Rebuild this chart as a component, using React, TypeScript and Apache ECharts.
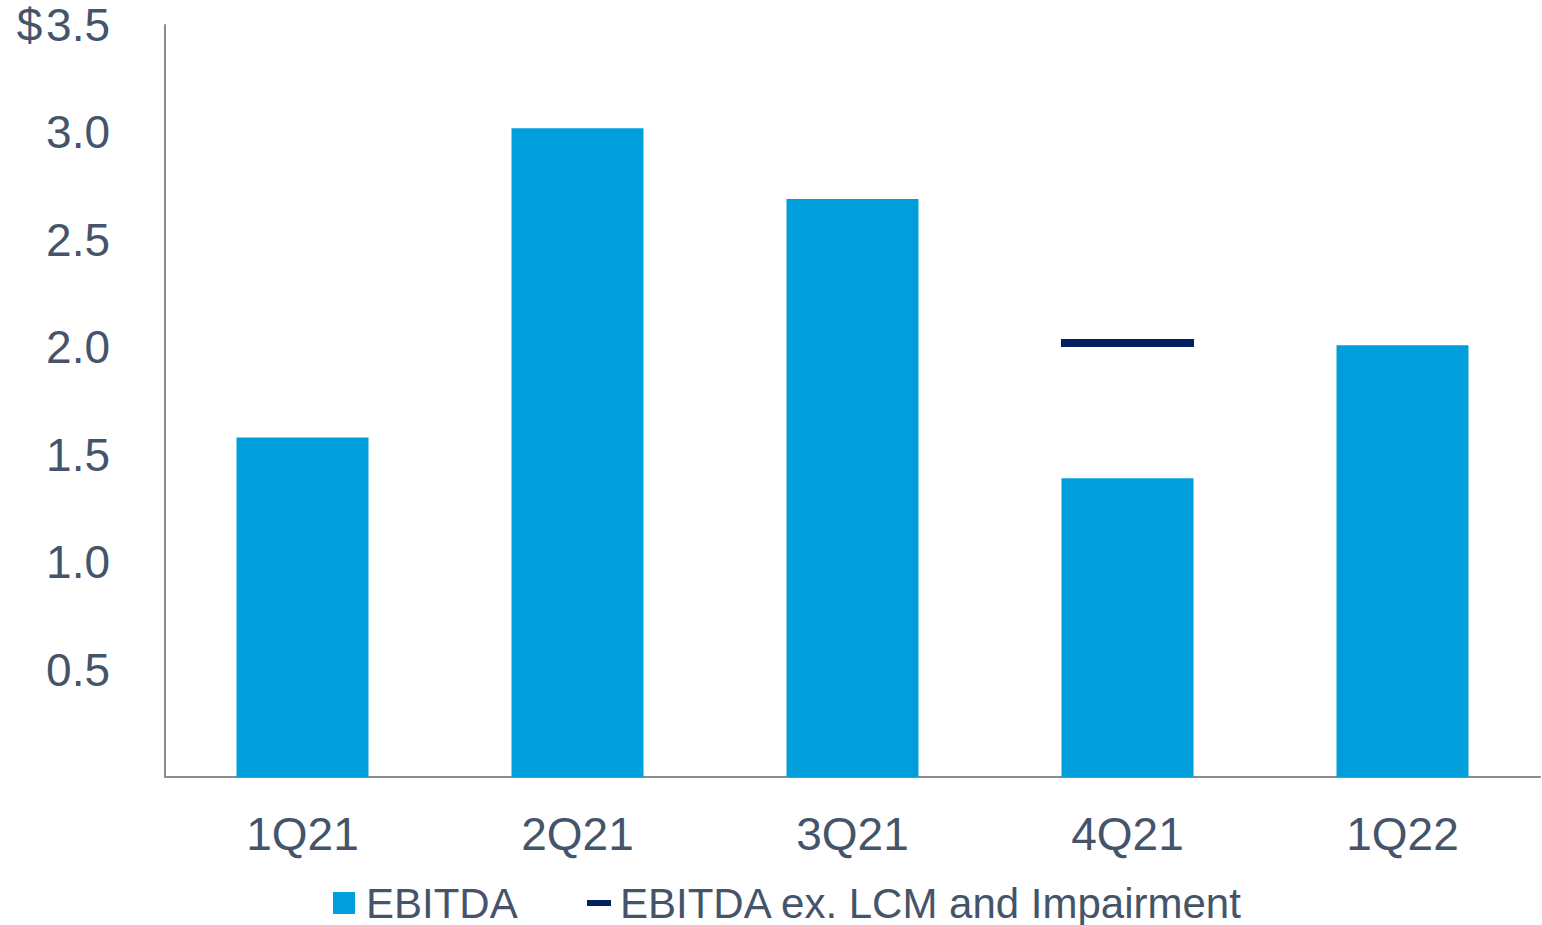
import React, { useEffect, useRef } from "react";
import * as echarts from "echarts";

const categories = ["1Q21", "2Q21", "3Q21", "4Q21", "1Q22"];
const ebitda = [1.58, 3.02, 2.69, 1.39, 2.01];
const ebitdaEx = [null, null, null, 2.02, null];
const seriesNames = ["EBITDA", "EBITDA ex. LCM and Impairment"];

const TEXT = "#44546A";
const BLUE = "#009FDB";
const NAVY = "#002060";
const FONT = "Liberation Sans, Arial, sans-serif";

export default function App() {
  const ref = useRef<HTMLDivElement>(null);
  useEffect(() => {
    document.body.style.margin = "0";
    const chart = echarts.init(ref.current!, null, { renderer: "svg" });
    chart.setOption({
      animation: false,
      grid: { left: 165, right: 2, top: 25, bottom: 148 },
      legend: [
        {
          data: [seriesNames[0]],
          left: 333,
          top: 882,
          padding: 0,
          itemWidth: 22,
          itemHeight: 22,
          icon: "rect",
          textStyle: { color: TEXT, fontSize: 42, lineHeight: 42, fontFamily: FONT, padding: [0, 0, 0, 6] },
          selectedMode: false,
        },
        {
          data: [seriesNames[1]],
          left: 587,
          top: 882,
          padding: 0,
          itemWidth: 24,
          itemHeight: 6,
          icon: "rect",
          itemStyle: { opacity: 1 },
          textStyle: { color: TEXT, fontSize: 42, lineHeight: 42, fontFamily: FONT, padding: [0, 0, 0, 4] },
          selectedMode: false,
        },
      ],
      xAxis: {
        type: "category",
        data: categories,
        axisLine: { lineStyle: { color: "#8C8C8C", width: 2 } },
        axisTick: { show: false },
        axisLabel: { color: TEXT, fontSize: 46, fontFamily: FONT, margin: 34 },
      },
      yAxis: {
        type: "value",
        min: 0,
        max: 3.5,
        interval: 0.5,
        axisLine: { show: true, lineStyle: { color: "#8C8C8C", width: 2 } },
        axisTick: { show: false },
        splitLine: { show: false },
        axisLabel: {
          color: TEXT,
          fontSize: 46,
          fontFamily: FONT,
          margin: 55,
          formatter: (v: number) =>
            v === 0 ? "" : v === 3.5 ? "$\u200A" + v.toFixed(1) : v.toFixed(1),
        },
      },
      series: [
        {
          name: seriesNames[0],
          type: "bar",
          data: ebitda,
          barWidth: "48%",
          itemStyle: { color: BLUE },
        },
        {
          name: seriesNames[1],
          type: "scatter",
          data: ebitdaEx,
          symbol: "rect",
          symbolSize: [133, 8],
          itemStyle: { color: NAVY, opacity: 1 },
        },
      ],
    });
    return () => chart.dispose();
  }, []);
  return <div ref={ref} style={{ width: 1542, height: 925 }} />;
}
